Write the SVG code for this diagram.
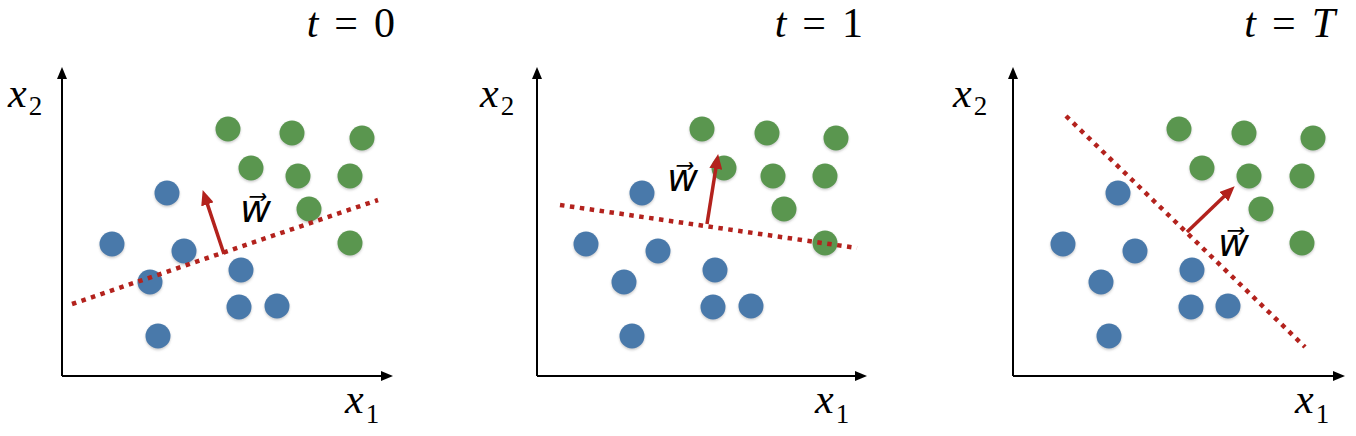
<svg xmlns="http://www.w3.org/2000/svg" width="1356" height="436" viewBox="0 0 1356 436">
<style>
.g{fill:#5a964f;filter:url(#soft)}
.b{fill:#4a79aa;filter:url(#soft)}
.ax{stroke:#000;stroke-width:2;fill:none;marker-end:url(#axh)}
.sep{stroke:#b3221d;stroke-width:4.5;fill:none;stroke-dasharray:4.5 5.5}
.w{stroke:#b3221d;stroke-width:3.5;fill:none;marker-end:url(#wh)}
.lbl{font-family:"Liberation Serif","DejaVu Serif","Noto Serif","Times New Roman",Times,"Nimbus Roman","FreeSerif",serif;fill:#000}
.vec{font-family:"DejaVu Serif","DejaVu Sans",serif;font-style:italic;font-size:38px;fill:#000}
</style>
<defs>
<filter id="soft" x="-30%" y="-30%" width="160%" height="170%">
<feDropShadow dx="0" dy="1.5" stdDeviation="1.2" flood-color="#666" flood-opacity="0.35"/>
<feGaussianBlur stdDeviation="0.7"/>
</filter>
<marker id="axh" markerUnits="userSpaceOnUse" markerWidth="12" markerHeight="10" refX="2" refY="5" orient="auto">
<path d="M0,0 L12,5 L0,10 z" fill="#000"/>
</marker>
<marker id="wh" markerUnits="userSpaceOnUse" markerWidth="15" markerHeight="13" refX="2" refY="6.5" orient="auto">
<path d="M0,0 L15,6.5 L0,13 z" fill="#b3221d"/>
</marker>
</defs>
<rect width="1356" height="436" fill="#fff"/>

<g id="panel-t0" class="lbl">
<text x="395" y="37" text-anchor="end" font-size="42"><tspan font-style="italic">t</tspan><tspan dx="16">=</tspan><tspan dx="16">0</tspan></text>
<text x="8" y="107"><tspan font-style="italic" font-size="42">x</tspan><tspan font-size="27" dx="2" dy="8">2</tspan></text>
<text x="345" y="413"><tspan font-style="italic" font-size="42">x</tspan><tspan font-size="27" dx="2" dy="10">1</tspan></text>
<g id="p0-dots">
<circle class="g" cx="228" cy="129" r="12.5"/><circle class="g" cx="292" cy="133" r="12.5"/><circle class="g" cx="362" cy="138" r="12.5"/><circle class="g" cx="251" cy="168" r="12.5"/><circle class="g" cx="298" cy="176" r="12.5"/><circle class="g" cx="350" cy="176" r="12.5"/><circle class="g" cx="309" cy="209" r="12.5"/><circle class="g" cx="350" cy="243" r="12.5"/>
<circle class="b" cx="167" cy="193" r="12.5"/><circle class="b" cx="112" cy="244" r="12.5"/><circle class="b" cx="184" cy="251" r="12.5"/><circle class="b" cx="150" cy="282" r="12.5"/><circle class="b" cx="241" cy="270" r="12.5"/><circle class="b" cx="239" cy="307" r="12.5"/><circle class="b" cx="277" cy="306" r="12.5"/><circle class="b" cx="158" cy="336" r="12.5"/>
</g>
<text class="vec" x="240" y="222">w&#x20D7;</text>
</g>

<g id="panel-t1" class="lbl">
<text x="863" y="37" text-anchor="end" font-size="42"><tspan font-style="italic">t</tspan><tspan dx="16">=</tspan><tspan dx="16">1</tspan></text>
<text x="480" y="107"><tspan font-style="italic" font-size="42">x</tspan><tspan font-size="27" dx="2" dy="8">2</tspan></text>
<text x="815" y="413"><tspan font-style="italic" font-size="42">x</tspan><tspan font-size="27" dx="2" dy="10">1</tspan></text>
<g id="p1-dots">
<circle class="g" cx="702" cy="129" r="12.5"/><circle class="g" cx="767" cy="133" r="12.5"/><circle class="g" cx="836" cy="138" r="12.5"/><circle class="g" cx="724" cy="168" r="12.5"/><circle class="g" cx="773" cy="176" r="12.5"/><circle class="g" cx="825" cy="176" r="12.5"/><circle class="g" cx="784" cy="209" r="12.5"/><circle class="g" cx="825" cy="243" r="12.5"/>
<circle class="b" cx="642" cy="193" r="12.5"/><circle class="b" cx="586" cy="244" r="12.5"/><circle class="b" cx="658" cy="251" r="12.5"/><circle class="b" cx="624" cy="282" r="12.5"/><circle class="b" cx="715" cy="270" r="12.5"/><circle class="b" cx="713" cy="307" r="12.5"/><circle class="b" cx="751" cy="306" r="12.5"/><circle class="b" cx="632" cy="336" r="12.5"/>
</g>
<text class="vec" x="667" y="191">w&#x20D7;</text>
</g>

<g id="panel-tT" class="lbl">
<text x="1335" y="37" text-anchor="end" font-size="42"><tspan font-style="italic">t</tspan><tspan dx="16">=</tspan><tspan dx="16" font-style="italic">T</tspan></text>
<text x="953" y="107"><tspan font-style="italic" font-size="42">x</tspan><tspan font-size="27" dx="2" dy="8">2</tspan></text>
<text x="1295" y="413"><tspan font-style="italic" font-size="42">x</tspan><tspan font-size="27" dx="2" dy="10">1</tspan></text>
<g id="p2-dots">
<circle class="g" cx="1179" cy="129" r="12.5"/><circle class="g" cx="1244" cy="133" r="12.5"/><circle class="g" cx="1313" cy="138" r="12.5"/><circle class="g" cx="1202" cy="168" r="12.5"/><circle class="g" cx="1249" cy="176" r="12.5"/><circle class="g" cx="1302" cy="176" r="12.5"/><circle class="g" cx="1261" cy="209" r="12.5"/><circle class="g" cx="1302" cy="243" r="12.5"/>
<circle class="b" cx="1118" cy="193" r="12.5"/><circle class="b" cx="1063" cy="244" r="12.5"/><circle class="b" cx="1135" cy="251" r="12.5"/><circle class="b" cx="1101" cy="282" r="12.5"/><circle class="b" cx="1192" cy="270" r="12.5"/><circle class="b" cx="1191" cy="307" r="12.5"/><circle class="b" cx="1228" cy="306" r="12.5"/><circle class="b" cx="1109" cy="336" r="12.5"/>
</g>
<text class="vec" x="1218" y="256">w&#x20D7;</text>
</g>

<g id="connectors">
<line class="ax" x1="62" y1="376" x2="62" y2="77"/>
<line class="ax" x1="62" y1="376" x2="383" y2="376"/>
<line class="ax" x1="537" y1="376" x2="537" y2="77"/>
<line class="ax" x1="537" y1="376" x2="857" y2="376"/>
<line class="ax" x1="1013" y1="376" x2="1013" y2="77"/>
<line class="ax" x1="1013" y1="376" x2="1335" y2="376"/>
<line class="sep" x1="72" y1="304" x2="378" y2="200"/>
<line class="sep" x1="560" y1="205" x2="857" y2="248"/>
<line class="sep" x1="1066" y1="116" x2="1305" y2="347"/>
<line class="w" x1="224" y1="254" x2="206.8" y2="202.4"/>
<line class="w" x1="707" y1="224" x2="716.1" y2="166.8"/>
<line class="w" x1="1187" y1="232" x2="1225.3" y2="195.3"/>
</g>
</svg>
